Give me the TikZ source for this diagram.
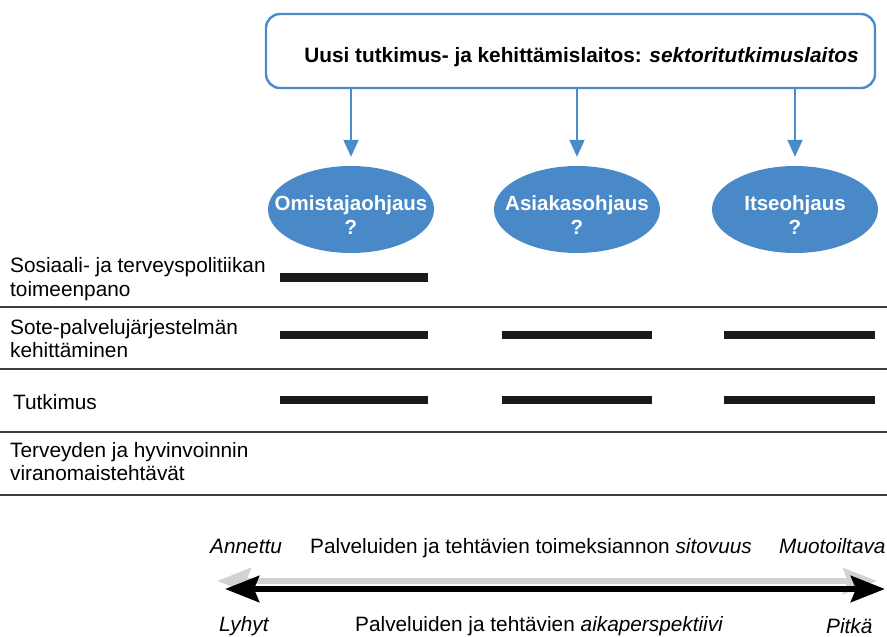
\documentclass[tikz,border=0pt]{standalone}
\usepackage{fontspec}
\setmainfont{Liberation Sans}
\usetikzlibrary{arrows.meta,shapes.geometric}
\definecolor{boxblue}{HTML}{4A8BCB}
\definecolor{ellblue}{HTML}{4A89C8}
\definecolor{rulegray}{HTML}{3C3C3C}
\definecolor{shadowgray}{HTML}{D2D2D2}
\definecolor{barblack}{HTML}{1A1A1A}

\begin{document}
\begin{tikzpicture}[x=1pt,y=-1pt,
  txt/.style={inner sep=0pt, anchor=base west, font=\fontsize{20.8}{23.5}\selectfont},
  rowlabel/.style={txt, align=left},
  topbox/.style={draw=boxblue, line width=2.4pt, rounded corners=14pt,
    minimum width=609pt, minimum height=74pt, inner sep=0pt},
  steer/.style={ellipse, fill=ellblue, minimum width=166pt, minimum height=87pt,
    inner sep=0pt},
  steertext/.style={inner sep=0pt, text=white, align=center,
    font=\fontsize{20.5}{24}\selectfont\bfseries},
  feed/.style={draw=boxblue, line width=2pt,
    -{Triangle[length=17pt,width=15pt]}, shorten >=9pt},
  rowrule/.style={draw=rulegray, line width=1.4pt},
  bar/.style={draw=barblack, line width=8.5pt},
  scaleshadow/.style={draw=shadowgray, line width=5.8pt,
    {Stealth[length=34pt,width=26pt,inset=5pt]}-{Stealth[length=34pt,width=26pt,inset=5pt]}},
  scalemain/.style={draw=black, line width=6.2pt,
    {Stealth[length=34pt,width=26pt,inset=5pt]}-{Stealth[length=34pt,width=26pt,inset=5pt]}}
]
\useasboundingbox (0,0) rectangle (887,637);

% institute box and its three steering modes
\node[topbox] (box) at (570.5,51) {};
\node[txt, anchor=base, font=\fontsize{20.8}{23.5}\selectfont\bfseries] (title) at (581.5,62.3)
  {Uusi tutkimus- ja kehittämislaitos: \textit{sektoritutkimuslaitos}};

\node[steer] (own) at (351,209.5) {};
\node[steer] (client) at (577,209.5) {};
\node[steer] (self) at (795,209.5) {};
\node[steertext] (ownt) at (351,215) {Omistajaohjaus\\?};
\node[steertext] (clientt) at (577,215) {Asiakasohjaus\\?};
\node[steertext] (selft) at (795,215) {Itseohjaus\\?};

\draw[feed] (box.south -| own.north) -- (own.north);
\draw[feed] (box.south -| client.north) -- (client.north);
\draw[feed] (box.south -| self.north) -- (self.north);

% task rows (base anchor sits on the last line)
\node[rowlabel] (r1) at (10,296.2) {Sosiaali- ja terveyspolitiikan\\toimeenpano};
\node[rowlabel] (r2) at (10,357.5) {Sote-palvelujärjestelmän\\kehittäminen};
\node[rowlabel] (r3) at (13,409) {Tutkimus};
\node[rowlabel] (r4) at (10,480.5) {Terveyden ja hyvinvoinnin\\viranomaistehtävät};

\draw[rowrule] (0,307) -- (887,307);
\draw[rowrule] (0,369) -- (887,369);
\draw[rowrule] (0,432) -- (887,432);
\draw[rowrule] (0,495) -- (887,495);

% which steering mode covers which task
\draw[bar] (280,277.5) -- (428,277.5);
\draw[bar] (280,335) -- (428,335);
\draw[bar] (502,335) -- (652,335);
\draw[bar] (724,335) -- (875,335);
\draw[bar] (280,400) -- (428,400);
\draw[bar] (502,400) -- (652,400);
\draw[bar] (724,400) -- (875,400);

% scale at the bottom
\node[txt, font=\fontsize{20.8}{23.5}\selectfont\itshape] (given) at (210,553) {Annettu};
\node[txt] (binding) at (310,553) {Palveluiden ja tehtävien toimeksiannon \textit{sitovuus}};
\node[txt, font=\fontsize{20.8}{23.5}\selectfont\itshape] (shapeable) at (779,553) {Muotoiltava};

\coordinate (sl) at (217,581);
\coordinate (sr) at (877,581);
\coordinate (ml) at (225,589);
\coordinate (mr) at (885,589);
\draw[scaleshadow] (sl) -- (sr);
\draw[scalemain] (ml) -- (mr);

\node[txt, font=\fontsize{20.8}{23.5}\selectfont\itshape] (short) at (219,631) {Lyhyt};
\node[txt] (span) at (355,631) {Palveluiden ja tehtävien \textit{aikaperspektiivi}};
\node[txt, font=\fontsize{20.8}{23.5}\selectfont\itshape] (long) at (826,633) {Pitkä};
\end{tikzpicture}
\end{document}
